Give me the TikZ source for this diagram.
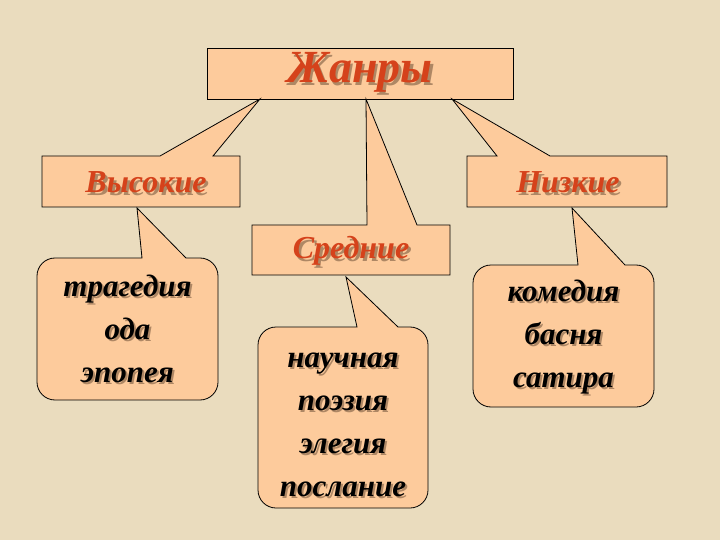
\documentclass[tikz,border=0pt]{standalone}
\usepackage{fontspec}
\setmainfont{Liberation Serif}
\definecolor{bg}{HTML}{EADCBE}
\definecolor{peach}{HTML}{FDCB9C}
\definecolor{redt}{HTML}{D5421B}
\definecolor{shd}{HTML}{7A5A40}
\tikzset{
 box/.style={draw=black,fill=peach,line width=0.8pt,line join=miter},
 head/.style={font=\bfseries\itshape\fontsize{#1}{#1}\selectfont,text=redt,inner sep=0pt},
 headsh/.style={font=\bfseries\itshape\fontsize{#1}{#1}\selectfont,text=shd,opacity=0.6,inner sep=0pt},
 body/.style={font=\bfseries\itshape\fontsize{31}{43}\selectfont,text=black,align=center,inner sep=0pt},
 bodysh/.style={font=\bfseries\itshape\fontsize{31}{43}\selectfont,text=shd,opacity=0.6,align=center,inner sep=0pt}
}
\begin{document}
\begin{tikzpicture}[x=1pt,y=-1pt]
\fill[bg] (0,0) rectangle (720,540);
\useasboundingbox (0,0) rectangle (720,540);
% top box
\draw[box] (207,48) rectangle (513,99);
\coordinate (tA) at (260,99);
\coordinate (tB) at (366,99);
\coordinate (tC) at (452,99);
% Высокие
\draw[box] (42,156) -- (160,156) -- (tA) -- (213,156) -- (240,156) -- (240,207) -- (42,207) -- cycle;
% Низкие
\draw[box] (467,156) -- (497,156) -- (tC) -- (550,156) -- (667,156) -- (667,207) -- (467,207) -- cycle;
% Средние
\draw[box] (252,225) -- (367,225) -- (tB) -- (417,225) -- (450,225) -- (450,275) -- (252,275) -- cycle;
\coordinate (tD) at (137,208);
\coordinate (tE) at (346,277);
\coordinate (tF) at (572,208);
% callouts
\draw[box,rounded corners=18pt] (37,258) [sharp corners]-- (142,258) -- (tD) -- (186,258) [rounded corners=18pt]-- (218,258) -- (218,400) -- (37,400) -- cycle;
\draw[box,rounded corners=18pt] (258,327) [sharp corners]-- (357,327) -- (tE) -- (398,327) [rounded corners=18pt]-- (428,327) -- (428,508) -- (258,508) -- cycle;
\draw[box,rounded corners=18pt] (473,265) [sharp corners]-- (578,265) -- (tF) -- (625,265) [rounded corners=18pt]-- (654,265) -- (654,407) -- (473,407) -- cycle;
% texts
\node[headsh=46] (s1) at (362.5,75) {Жанры};
\node[head=46] (h1) at (360,72) {Жанры};
\node[headsh=32] (s2) at (148.5,185) {Высокие};
\node[head=32] (h2) at (146,182) {Высокие};
\node[headsh=32] (s3) at (570.5,185) {Низкие};
\node[head=32] (h3) at (568,182) {Низкие};
\node[headsh=32] (s4) at (353.5,254) {Средние};
\node[head=32] (h4) at (351,251) {Средние};
\node[bodysh] (s5) at (129.5,331) {трагедия\\ода\\эпопея};
\node[body] (b5) at (127.5,329) {трагедия\\ода\\эпопея};
\node[bodysh] (s6) at (345,427) {научная\\поэзия\\элегия\\послание};
\node[body] (b6) at (343,425) {научная\\поэзия\\элегия\\послание};
\node[bodysh] (s7) at (565.5,339) {комедия\\басня\\сатира};
\node[body] (b7) at (563.5,337) {комедия\\басня\\сатира};
\end{tikzpicture}
\end{document}
